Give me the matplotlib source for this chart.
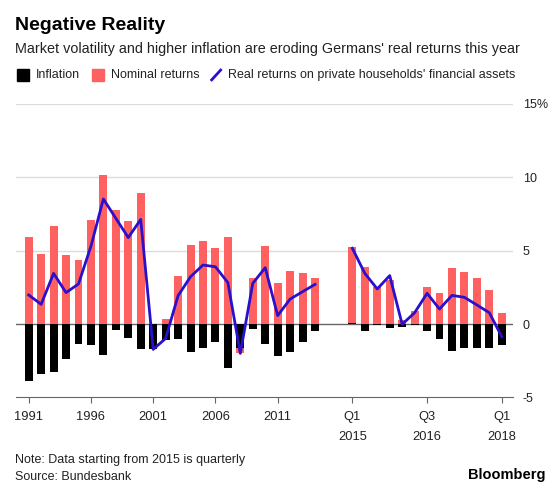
import numpy as np
import matplotlib
matplotlib.use("Agg")
import matplotlib.pyplot as plt
from matplotlib.patches import Rectangle
from matplotlib.lines import Line2D

plt.rcParams['font.family'] = ['Liberation Sans', 'DejaVu Sans']

# annual data 1991-2014
years = list(range(1991, 2015))
nominal_annual = [5.95, 4.75, 6.7, 4.68, 4.39, 7.1, 10.18, 7.75, 7.05, 8.9, -0.05, 0.36,
                  3.27, 5.36, 5.66, 5.16, 5.95, -2.0, 3.16, 5.32, 2.82, 3.64, 3.5, 3.16]
inflation_annual = [-3.9, -3.43, -3.25, -2.39, -1.39, -1.46, -2.09, -0.41, -0.93, -1.68, -1.73, -1.09,
                    -1.05, -1.9, -1.61, -1.23, -3.02, -1.66, -0.34, -1.36, -2.16, -1.93, -1.23, -0.45]
real_annual = [1.98, 1.34, 3.45, 2.14, 2.73, 5.3, 8.52, 7.2, 5.89, 7.13, -1.73, -0.98,
               1.93, 3.22, 4.02, 3.9, 2.82, -2.0, 2.77, 3.84, 0.57, 1.7, 2.2, 2.7]

# quarterly data Q1 2015 - Q1 2018
quarters = ['Q1 2015', 'Q2 2015', 'Q3 2015', 'Q4 2015', 'Q1 2016', 'Q2 2016', 'Q3 2016',
            'Q4 2016', 'Q1 2017', 'Q2 2017', 'Q3 2017', 'Q4 2017', 'Q1 2018']
nominal_q = [5.27, 3.86, 2.5, 3.0, 0.27, 0.91, 2.55, 2.09, 3.8, 3.52, 3.11, 2.32, 0.73]
inflation_q = [0.08, -0.45, -0.07, -0.27, -0.23, -0.07, -0.45, -1.02, -1.84, -1.61, -1.66, -1.61, -1.43]
real_q = [5.16, 3.45, 2.39, 3.3, -0.02, 0.77, 2.09, 1.02, 1.95, 1.82, 1.3, 0.77, -0.86]

tick_labels = ['1991', '1996', '2001', '2006', '2011', 'Q1\n2015', 'Q3\n2016', 'Q1\n2018']
tick_keys = [1991, 1996, 2001, 2006, 2011, 'Q1 2015', 'Q3 2016', 'Q1 2018']

PINK = '#ff6161'
BLUE = '#2a0fcc'
GRID = '#dcdcdc'
AXIS = '#666666'
TXT = '#222222'

# positions: one slot per year, two empty slots, then one slot per quarter
x_annual = np.arange(len(years))
x_q = np.arange(len(quarters)) + len(years) + 2
pos = {y: x for y, x in zip(years, x_annual)}
pos.update({q: x for q, x in zip(quarters, x_q)})

fig = plt.figure(figsize=(5.6, 4.9), dpi=100)
ax = fig.add_axes([0.029, 0.189, 0.887, 0.599])

w = 0.64
ax.bar(x_annual, nominal_annual, width=w, color=PINK, zorder=2)
ax.bar(x_q, nominal_q, width=w, color=PINK, zorder=2)
ax.bar(x_annual, inflation_annual, width=w, color='black', zorder=3)
ax.bar(x_q, inflation_q, width=w, color='black', zorder=3)
ax.plot(x_annual, real_annual, color=BLUE, lw=2, zorder=4)
ax.plot(x_q, real_q, color=BLUE, lw=2, zorder=4)

ax.set_xlim(-1, 38.9)
ax.set_ylim(-5, 15)
for v in [5, 10, 15]:
    ax.axhline(v, color=GRID, lw=1, zorder=1)
ax.axhline(0, color=AXIS, lw=1, zorder=1)

for s in ['top', 'left', 'right']:
    ax.spines[s].set_visible(False)
ax.spines['bottom'].set_color(AXIS)

ax.yaxis.tick_right()
ax.set_yticks([-5, 0, 5, 10, 15])
ax.set_yticklabels(['-5', '0', '5', '10', '15%'])
ax.tick_params(axis='y', length=0, pad=7, labelsize=9, labelcolor=TXT)

ax.set_xticks([pos[k] for k in tick_keys])
ax.set_xticklabels(tick_labels, linespacing=1.9)
ax.tick_params(axis='x', length=4, color=AXIS, pad=6, labelsize=9.3, labelcolor=TXT)

# titles
fig.text(0.027, 0.948, 'Negative Reality', fontsize=14, fontweight='bold', va='center')
fig.text(0.027, 0.900, "Market volatility and higher inflation are eroding Germans' real returns this year",
         fontsize=10.4, va='center', color=TXT)

# legend
ly = 0.847
fig.add_artist(Rectangle((0.030, ly - 0.0115), 0.021, 0.023, color='black', transform=fig.transFigure))
fig.text(0.064, ly, 'Inflation', fontsize=9, va='center', color=TXT)
fig.add_artist(Rectangle((0.164, ly - 0.0115), 0.021, 0.023, color=PINK, transform=fig.transFigure))
fig.text(0.198, ly, 'Nominal returns', fontsize=9, va='center', color=TXT)
fig.add_artist(Line2D([0.378, 0.394], [ly - 0.010, ly + 0.010], color=BLUE, lw=2, transform=fig.transFigure))
fig.text(0.407, ly, "Real returns on private households' financial assets", fontsize=9, va='center',
         color=TXT)

# footer
fig.text(0.027, 0.061, 'Note: Data starting from 2015 is quarterly', fontsize=9, va='center', color=TXT)
fig.text(0.027, 0.027, 'Source: Bundesbank', fontsize=9, va='center', color=TXT)
fig.text(0.974, 0.030, 'Bloomberg', fontsize=10.5, fontweight='bold', va='center', ha='right')

fig.savefig('out.png', dpi=100)
